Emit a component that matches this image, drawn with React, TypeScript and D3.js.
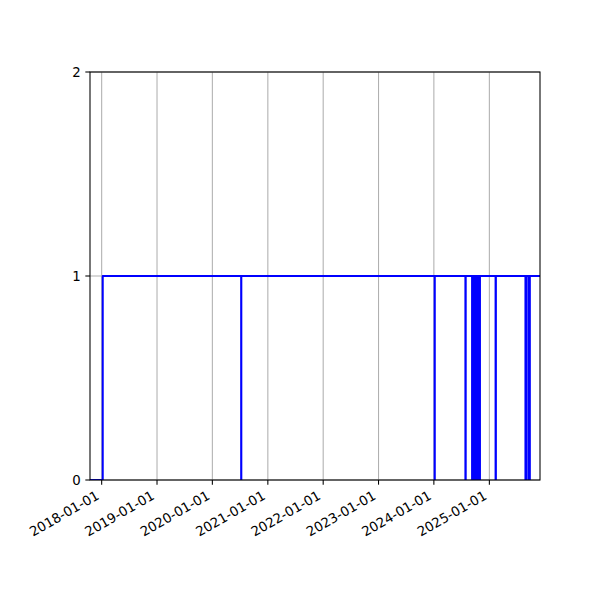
import React from "react";
import * as d3 from "d3";

// Step series: dates where the value changes, and the value from that date on
const changeDates = [
  "2017-10-16", "2018-01-08",
  "2020-07-09", "2020-07-10",
  "2024-01-06", "2024-01-07",
  "2024-07-27", "2024-07-29",
  "2024-09-09", "2024-09-10",
  "2024-09-15", "2024-09-16",
  "2024-09-21", "2024-09-22",
  "2024-09-27", "2024-09-28",
  "2024-10-03", "2024-10-04",
  "2024-10-09", "2024-10-10",
  "2024-10-15", "2024-10-16",
  "2024-10-21", "2024-10-22",
  "2024-10-27", "2024-10-28",
  "2024-10-30", "2024-10-31",
  "2025-02-11", "2025-02-13",
  "2025-08-27", "2025-08-28",
  "2025-09-03", "2025-09-04",
  "2025-09-19", "2025-09-20",
  "2025-09-24", "2025-09-25",
  "2025-12-01",
];
const changeValues = [
  0, 1,
  0, 1,
  0, 1,
  0, 1,
  0, 1,
  0, 1,
  0, 1,
  0, 1,
  0, 1,
  0, 1,
  0, 1,
  0, 1,
  0, 1,
  0, 1,
  0, 1,
  0, 1,
  0, 1,
  0, 1,
  0, 1,
  1,
];
const xTickDates = [
  "2018-01-01", "2019-01-01", "2020-01-01", "2021-01-01",
  "2022-01-01", "2023-01-01", "2024-01-01", "2025-01-01",
];
const yTicks = [0, 1, 2];
const xDomain = ["2017-10-16", "2025-12-01"];

const parse = d3.utcParse("%Y-%m-%d");
const fmt = d3.utcFormat("%Y-%m-%d");

export default function App() {
  const W = 600, H = 600;
  const L = 90, R = 540, T = 72, B = 480;
  const x = d3.scaleUtc().domain(xDomain.map((d) => parse(d) as Date)).range([L, R]);
  const y = d3.scaleLinear().domain([0, 2]).range([B, T]);
  const pts = changeDates.map((d, i) => ({ t: parse(d) as Date, v: changeValues[i] }));
  const line = d3
    .line<{ t: Date; v: number }>()
    .x((d) => x(d.t))
    .y((d) => y(d.v))
    .curve(d3.curveStepAfter);
  const font = "'DejaVu Sans', sans-serif";
  const fs = 13.33;
  const tickLen = 4.67;
  return (
    <div style={{ position: "fixed", left: 0, top: 0 }}>
      <svg width={W} height={H} style={{ display: "block", background: "#fff" }}>
        <defs>
          <clipPath id="plotclip">
            <rect x={L} y={T} width={R - L} height={B - T} />
          </clipPath>
        </defs>
        {/* grid */}
        {xTickDates.map((d) => {
          const xx = x(parse(d) as Date);
          return <line key={"gx" + d} x1={xx} x2={xx} y1={T} y2={B} stroke="#b0b0b0" strokeWidth={1.07} />;
        })}
        {yTicks.map((v) => (
          <line key={"gy" + v} x1={L} x2={R} y1={y(v)} y2={y(v)} stroke="#b0b0b0" strokeWidth={1.07} />
        ))}
        {/* series */}
        <path
          d={line(pts) || ""}
          fill="none"
          stroke="#0000ff"
          strokeWidth={2}
          strokeLinejoin="round"
          clipPath="url(#plotclip)"
        />
        {/* spines */}
        <rect x={L} y={T} width={R - L} height={B - T} fill="none" stroke="#000" strokeWidth={1.07} />
        {/* x ticks */}
        {xTickDates.map((d) => {
          const xx = x(parse(d) as Date);
          const px = xx - 1.6;
          const py = B + tickLen + 4.67 + 8.8;
          return (
            <g key={"xt" + d}>
              <line x1={xx} x2={xx} y1={B} y2={B + tickLen} stroke="#000" strokeWidth={1.07} />
              <text
                transform={`translate(${px},${py}) rotate(-30)`}
                textAnchor="end"
                fontFamily={font}
                fontSize={fs}
                fill="#000"
              >
                {fmt(parse(d) as Date)}
              </text>
            </g>
          );
        })}
        {/* y ticks */}
        {yTicks.map((v) => (
          <g key={"yt" + v}>
            <line x1={L - tickLen} x2={L} y1={y(v)} y2={y(v)} stroke="#000" strokeWidth={1.07} />
            <text
              x={L - tickLen - 4.67}
              y={y(v)}
              dy="0.36em"
              textAnchor="end"
              fontFamily={font}
              fontSize={fs}
              fill="#000"
            >
              {v}
            </text>
          </g>
        ))}
      </svg>
    </div>
  );
}
